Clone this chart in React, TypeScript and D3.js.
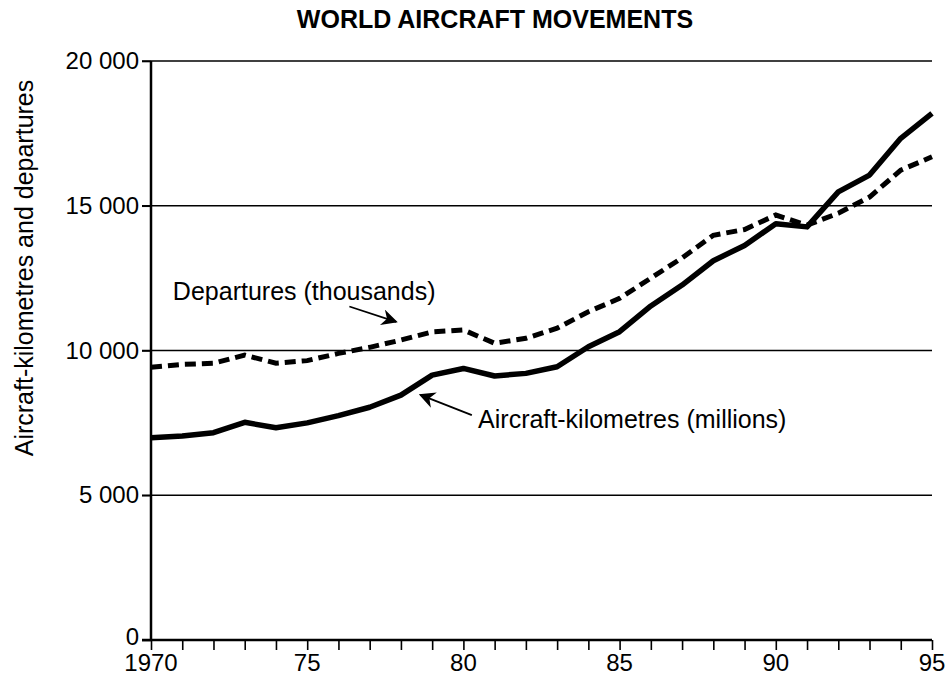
import React, { useEffect, useRef } from 'react';
import * as d3 from 'd3';

const years = d3.range(1970, 1996);

// Aircraft-kilometres (millions)
const kilometres = [
  6990, 7050, 7160, 7520, 7330, 7500, 7750, 8040, 8460, 9150,
  9380, 9120, 9210, 9440, 10130, 10650, 11540, 12260, 13100, 13630,
  14380, 14270, 15480, 16060, 17330, 18190,
];

// Departures (thousands)
const departures = [
  9420, 9520, 9560, 9840, 9560, 9650, 9900, 10110, 10360, 10640,
  10710, 10250, 10420, 10770, 11340, 11800, 12500, 13200, 13980, 14180,
  14680, 14330, 14740, 15300, 16230, 16690,
];

const yTicks = [0, 5000, 10000, 15000, 20000];
const xTickLabels = [
  { year: 1970, label: '1970' },
  { year: 1975, label: '75' },
  { year: 1980, label: '80' },
  { year: 1985, label: '85' },
  { year: 1990, label: '90' },
  { year: 1995, label: '95' },
];

const notes = [
  { text: 'Departures (thousands)', x: 1970.7, y: 11740, from: [1976.35, 11520], to: [1977.85, 10990] },
  { text: 'Aircraft-kilometres (millions)', x: 1980.47, y: 7330, from: [1980.27, 7770], to: [1978.62, 8470] },
];

const fmt = (v: number) => (v >= 1000 ? d3.format(',')(v).replace(',', ' ') : String(v));

export default function App() {
  const svgRef = useRef<SVGSVGElement>(null);

  useEffect(() => {
    document.body.style.margin = '0';
    if (!svgRef.current) return;

    const svg = d3.select(svgRef.current);
    svg.selectAll('*').remove();

    const margin = { top: 61, right: 16, bottom: 37, left: 151 };
    const width = 948;
    const height = 677;
    const font = '"Liberation Sans", Arial, sans-serif';

    const x = d3.scaleLinear()
      .domain([1970, 1995])
      .range([margin.left, width - margin.right]);

    const y = d3.scaleLinear()
      .domain([0, 20000])
      .range([height - margin.bottom, margin.top]);

    svg.append('defs').append('marker')
      .attr('id', 'arrow')
      .attr('viewBox', '0 0 10 10')
      .attr('refX', 9)
      .attr('refY', 5)
      .attr('markerWidth', 9)
      .attr('markerHeight', 9)
      .attr('markerUnits', 'strokeWidth')
      .attr('orient', 'auto')
      .append('path')
      .attr('d', 'M0,0 L10,5 L0,10 L3,5 Z')
      .attr('fill', '#000');

    // title
    svg.append('text')
      .attr('x', 495)
      .attr('y', 28)
      .attr('text-anchor', 'middle')
      .attr('font-family', font)
      .attr('font-weight', 'bold')
      .attr('font-size', 25)
      .text('WORLD AIRCRAFT MOVEMENTS');

    // gridlines
    svg.append('g')
      .selectAll('line')
      .data(yTicks.filter(d => d > 0))
      .enter()
      .append('line')
      .attr('x1', margin.left - 9)
      .attr('x2', x(1995))
      .attr('y1', d => y(d))
      .attr('y2', d => y(d))
      .attr('stroke', '#000')
      .attr('stroke-width', 1.6);

    // y axis
    const yAxis = svg.append('g')
      .attr('transform', `translate(${margin.left},0)`)
      .call(d3.axisLeft(y).tickValues(yTicks).tickSize(9).tickPadding(3).tickFormat(d => fmt(+d)));
    yAxis.select('.domain').attr('stroke-width', 2.5).attr('d', `M0,${y(0)}V${y(20000)}`);
    yAxis.selectAll('line').attr('stroke-width', 1.6);
    yAxis.selectAll('text')
      .attr('font-family', font)
      .attr('font-size', 24)
      .attr('fill', '#000')
      .attr('dy', d => (+d === 0 ? '0.18em' : '0.32em'));

    // x axis
    const xAxis = svg.append('g')
      .attr('transform', `translate(0,${y(0)})`)
      .call(d3.axisBottom(x).tickValues(years).tickSize(10).tickFormat(() => ''));
    xAxis.select('.domain').attr('stroke-width', 2.5).attr('d', `M${margin.left - 9},0H${x(1995)}`);
    xAxis.selectAll('line').attr('stroke-width', 1.6);

    svg.append('g')
      .selectAll('text')
      .data(xTickLabels)
      .enter()
      .append('text')
      .attr('x', d => x(d.year))
      .attr('y', height - 6)
      .attr('text-anchor', 'middle')
      .attr('font-family', font)
      .attr('font-size', 24)
      .text(d => d.label);

    // y axis title
    svg.append('text')
      .attr('transform', `translate(33,${268}) rotate(-90)`)
      .attr('text-anchor', 'middle')
      .attr('font-family', font)
      .attr('font-size', 25)
      .text('Aircraft-kilometres and departures');

    const line = d3.line<number>()
      .x((_, i) => x(years[i]))
      .y(d => y(d));

    svg.append('path')
      .datum(departures)
      .attr('fill', 'none')
      .attr('stroke', '#000')
      .attr('stroke-width', 5)
      .attr('stroke-dasharray', '11 6')
      .attr('d', line);

    svg.append('path')
      .datum(kilometres)
      .attr('fill', 'none')
      .attr('stroke', '#000')
      .attr('stroke-width', 5.5)
      .attr('stroke-linejoin', 'round')
      .attr('d', line);

    // annotations
    const g = svg.append('g');
    g.selectAll('text')
      .data(notes)
      .enter()
      .append('text')
      .attr('x', d => x(d.x))
      .attr('y', d => y(d.y))
      .attr('font-family', font)
      .attr('font-size', 25)
      .text(d => d.text);

    g.selectAll('line')
      .data(notes)
      .enter()
      .append('line')
      .attr('x1', d => x(d.from[0]))
      .attr('y1', d => y(d.from[1]))
      .attr('x2', d => x(d.to[0]))
      .attr('y2', d => y(d.to[1]))
      .attr('stroke', '#000')
      .attr('stroke-width', 1.8)
      .attr('marker-end', 'url(#arrow)');
  }, []);

  return (
    <div>
      <svg ref={svgRef} width={948} height={677} style={{ display: 'block', background: '#fff' }}></svg>
    </div>
  );
}
